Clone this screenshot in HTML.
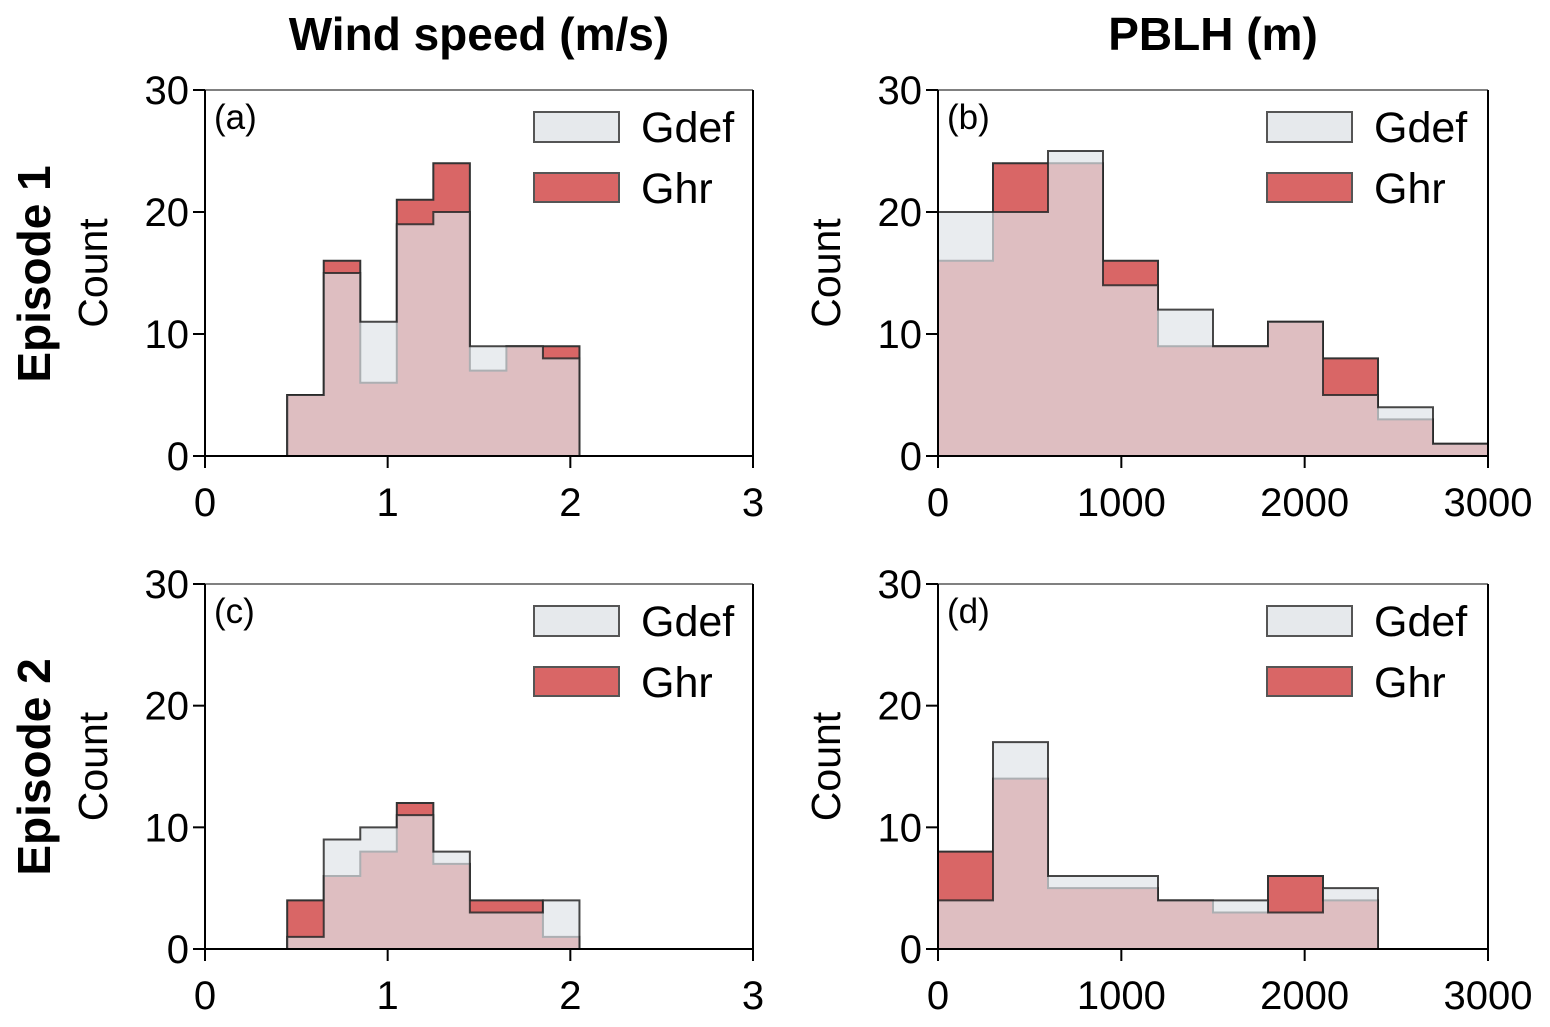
<!DOCTYPE html>
<html><head><meta charset="utf-8"><style>
body{margin:0;background:#fff}
svg{display:block;font-family:"Liberation Sans",Arial,sans-serif}
</style></head><body>
<svg id="fig" width="1550" height="1027" viewBox="0 0 1550 1027">
<text x="479" y="50" font-size="46" font-weight="bold" text-anchor="middle">Wind speed (m/s)</text>
<text x="1213" y="50" font-size="46" font-weight="bold" text-anchor="middle">PBLH (m)</text>
<text transform="translate(50,274) rotate(-90)" font-size="46" font-weight="bold" text-anchor="middle">Episode 1</text>
<text transform="translate(50,767) rotate(-90)" font-size="46" font-weight="bold" text-anchor="middle">Episode 2</text>
</svg>
<script>
const windEdgesStart = 0.45, windBinWidth = 0.2;
const pblhEdgesStart = 0, pblhBinWidth = 300;
const aGdef = [5,15,11,19,20,9,9,8];
const aGhr  = [5,16,6,21,24,7,9,9];
const bGdef = [20,20,25,14,12,9,11,5,4,1];
const bGhr  = [16,24,24,16,9,9,11,8,3,1];
const cGdef = [1,9,10,11,8,3,3,4];
const cGhr  = [4,6,8,12,7,4,4,1];
const dGdef = [4,17,6,6,4,4,3,5];
const dGhr  = [8,14,5,5,4,3,6,4];
const windTicks = [0,1,2,3];
const pblhTicks = [0,1000,2000,3000];
const yTicks = [0,10,20,30];

const NS='http://www.w3.org/2000/svg';
const svg=document.getElementById('fig');
function mk(tag,attrs,parent){const e=document.createElementNS(NS,tag);for(const k in attrs)e.setAttribute(k,attrs[k]);(parent||svg).appendChild(e);return e;}

function panel(id,x0,x1,yTop,yBot,xmax,start,bw,gdef,ghr,xticks,label){
  const g=mk('g',{});
  
  
  const sx=v=>x0+(v/xmax)*(x1-x0);
  const sy=v=>yBot-(v/30)*(yBot-yTop);
  function steps(vals){
    let d='M'+sx(start)+','+sy(0);
    vals.forEach((v,i)=>{d+=' L'+sx(start+i*bw)+','+sy(v)+' L'+sx(start+(i+1)*bw)+','+sy(v);});
    d+=' L'+sx(start+vals.length*bw)+','+sy(0)+' Z';
    return d;
  }
  const r=mk('path',{d:steps(ghr),fill:'#d96666',stroke:'#333','stroke-width':2},g);
  
  
  const gr=mk('path',{d:steps(gdef),fill:'rgba(224,228,232,0.7)',stroke:'rgba(40,40,40,0.85)','stroke-width':2},g);
  
  
  mk('path',{d:`M${x0},${yTop} V${yBot} H${x1} V${yTop}`,fill:'none',stroke:'#000','stroke-width':2},g);
  mk('line',{x1:x0,y1:yTop,x2:x1,y2:yTop,stroke:'#000','stroke-width':1},g);
  yTicks.forEach(t=>{
    mk('line',{x1:x0-12,y1:sy(t),x2:x0,y2:sy(t),stroke:'#000','stroke-width':2},g);
    const tx=mk('text',{x:x0-16,y:sy(t)+14,'font-size':40,'text-anchor':'end'},g);
    tx.textContent=t;
    
    
  });
  xticks.forEach(t=>{
    mk('line',{x1:sx(t),y1:yBot,x2:sx(t),y2:yBot+12,stroke:'#000','stroke-width':2},g);
    const tx=mk('text',{x:sx(t),y:yBot+60,'font-size':40,'text-anchor':'middle'},g);
    tx.textContent=t;
    
    
  });
  const yl=mk('text',{transform:`translate(${x0-98},${(yTop+yBot)/2}) rotate(-90)`,'font-size':41,'text-anchor':'middle'},g);
  yl.textContent='Count';
  
  
  const pl=mk('text',{x:x0+9,y:yTop+39,'font-size':35},g);
  pl.textContent=label;
  
  
  const lg=mk('g',{},g);
  
  
  mk('rect',{x:x0+329,y:yTop+22,width:85,height:30,fill:'#e6e9ec',stroke:'#555','stroke-width':2},lg);
  const t1=mk('text',{x:x0+436,y:yTop+52,'font-size':43},lg);t1.textContent='Gdef';
  
  
  mk('rect',{x:x0+329,y:yTop+83,width:85,height:29,fill:'#d96666',stroke:'#555','stroke-width':2},lg);
  const t2=mk('text',{x:x0+436,y:yTop+113,'font-size':43},lg);t2.textContent='Ghr';
  
  
}
panel('a',205,753,90,456,3,windEdgesStart,windBinWidth,aGdef,aGhr,windTicks,'(a)');
panel('b',938,1488,90,456,3000,pblhEdgesStart,pblhBinWidth,bGdef,bGhr,pblhTicks,'(b)');
panel('c',205,753,584,949,3,windEdgesStart,windBinWidth,cGdef,cGhr,windTicks,'(c)');
panel('d',938,1488,584,949,3000,pblhEdgesStart,pblhBinWidth,dGdef,dGhr,pblhTicks,'(d)');
</script>
</body></html>
